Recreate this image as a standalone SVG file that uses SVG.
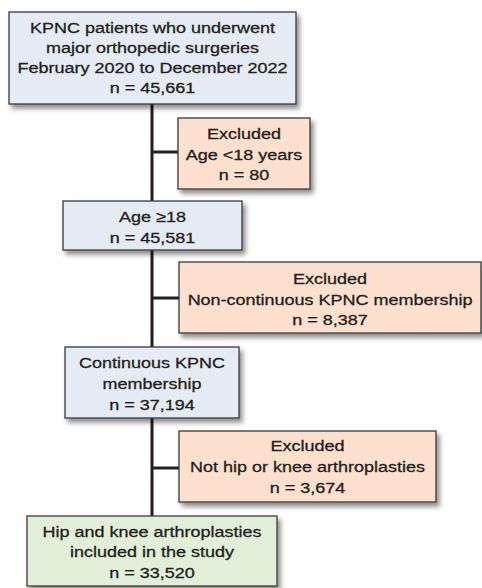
<svg xmlns="http://www.w3.org/2000/svg" width="482" height="588" viewBox="0 0 482 588">
<style>
.box{stroke:#3a3a3a;stroke-width:1.3;filter:url(#sh)}
.blue{fill:#e5ebf5}
.peach{fill:#fde0cd}
.green{fill:#e2efd8}
.t{font-family:"Liberation Sans",Arial,sans-serif;font-size:15px;fill:#231f20;stroke:#231f20;stroke-width:0.3;text-anchor:middle}
.ln{stroke:#231f20;stroke-width:3;fill:none}
</style>
<defs>
<filter id="sh" x="-10%" y="-10%" width="130%" height="140%">
<feDropShadow dx="3" dy="4" stdDeviation="2.5" flood-color="#000" flood-opacity="0.45"/>
</filter>
</defs>
<g id="connectors">
<line class="ln" x1="152" y1="104" x2="152" y2="516"/>
<line class="ln" x1="152" y1="152" x2="178" y2="152"/>
<line class="ln" x1="152" y1="298" x2="179" y2="298"/>
<line class="ln" x1="152" y1="468" x2="179" y2="468"/>
</g>
<g id="n1">
<rect class="box blue" x="9" y="12" width="287" height="92"/>
<g transform="translate(152.5,0) scale(1.2,1)">
<text class="t" x="0" y="32.7">KPNC patients who underwent</text>
<text class="t" x="0" y="52.7">major orthopedic surgeries</text>
<text class="t" x="0" y="72.7">February 2020 to December 2022</text>
<text class="t" x="0" y="92.7">n = 45,661</text>
</g>
</g>
<g id="x1">
<rect class="box peach" x="178" y="118" width="132" height="71"/>
<g transform="translate(244,0) scale(1.2,1)">
<text class="t" x="0" y="139.5">Excluded</text>
<text class="t" x="0" y="160">Age &lt;18 years</text>
<text class="t" x="0" y="180.5">n = 80</text>
</g>
</g>
<g id="n2">
<rect class="box blue" x="63" y="201" width="179" height="49"/>
<g transform="translate(152.5,0) scale(1.2,1)">
<text class="t" x="0" y="222.3">Age ≥18</text>
<text class="t" x="0" y="243.3">n = 45,581</text>
</g>
</g>
<g id="x2">
<rect class="box peach" x="179" y="262" width="302" height="71"/>
<g transform="translate(330,0) scale(1.2,1)">
<text class="t" x="0" y="284">Excluded</text>
<text class="t" x="0" y="305">Non-continuous KPNC membership</text>
<text class="t" x="0" y="325.3">n = 8,387</text>
</g>
</g>
<g id="n3">
<rect class="box blue" x="65" y="347" width="174" height="71"/>
<g transform="translate(152,0) scale(1.2,1)">
<text class="t" x="0" y="368.3">Continuous KPNC</text>
<text class="t" x="0" y="389">membership</text>
<text class="t" x="0" y="410">n = 37,194</text>
</g>
</g>
<g id="x3">
<rect class="box peach" x="179" y="431" width="257" height="71"/>
<g transform="translate(307.5,0) scale(1.2,1)">
<text class="t" x="0" y="451">Excluded</text>
<text class="t" x="0" y="471.7">Not hip or knee arthroplasties</text>
<text class="t" x="0" y="493.3">n = 3,674</text>
</g>
</g>
<g id="n4">
<rect class="box green" x="27" y="516" width="250" height="70"/>
<g transform="translate(152,0) scale(1.2,1)">
<text class="t" x="0" y="536.7">Hip and knee arthroplasties</text>
<text class="t" x="0" y="557.3">included in the study</text>
<text class="t" x="0" y="578.3">n = 33,520</text>
</g>
</g>
</svg>
